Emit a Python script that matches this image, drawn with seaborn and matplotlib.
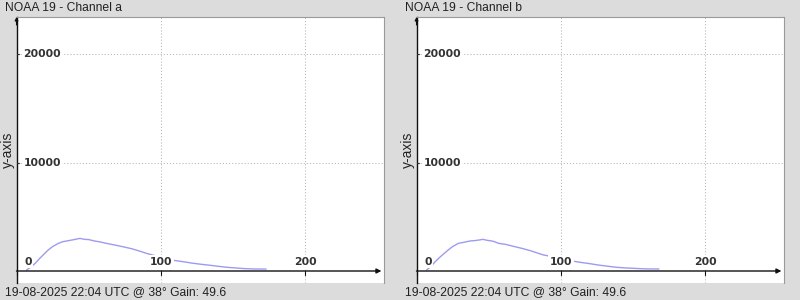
import matplotlib
matplotlib.use("Agg")
import matplotlib.pyplot as plt
import seaborn as sns
import pandas as pd

titles = ["NOAA 19 - Channel a", "NOAA 19 - Channel b"]
footer = "19-08-2025 22:04 UTC @ 38\u00b0 Gain: 49.6"
ylabel = "y-axis"
xticks = [0, 100, 200]
yticks = [10000, 20000]

x_a = [7, 10, 13, 16, 19, 22, 25, 29, 32, 36, 40, 44, 47, 50, 54, 58, 62, 68, 74, 80,
       85, 90, 95, 100, 105, 110, 116, 122, 128, 134, 140, 146, 152, 158, 164, 170, 173]
y_a = [90, 380, 710, 1150, 1550, 1940, 2250, 2550, 2700, 2800, 2900, 3010, 2920, 2900, 2770,
       2680, 2560, 2400, 2230, 2050, 1850, 1630, 1450, 1280, 1080, 960, 850, 720, 620, 530,
       430, 340, 280, 220, 190, 180, 180]

x_b = [7, 10, 13, 16, 19, 22, 25, 29, 33, 37, 40, 43, 46, 49, 53, 57, 62, 67, 73, 79,
       84, 88, 93, 98, 103, 108, 114, 120, 126, 132, 138, 144, 150, 156, 162, 168]
y_b = [90, 420, 860, 1250, 1600, 1940, 2250, 2550, 2650, 2770, 2800, 2850, 2920, 2830, 2750,
       2550, 2450, 2280, 2090, 1870, 1650, 1480, 1350, 1180, 1010, 920, 790, 680, 550, 450,
       350, 290, 250, 210, 190, 185]

sns.set_style("white")
plt.rcParams["font.family"] = ["Liberation Sans", "DejaVu Sans"]

BG = "#dcdcdc"
fig = plt.figure(figsize=(8, 3), dpi=100, facecolor=BG)

series = [(x_a, y_a), (x_b, y_b)]
for i, (xs, ys) in enumerate(series):
    left = (16.5 + 400 * i) / 800
    ax = fig.add_axes([left, 17 / 300, 367.5 / 800, 266 / 300])
    ax.set_facecolor("white")
    df = pd.DataFrame({"x": xs, "y": ys})
    sns.lineplot(data=df, x="x", y="y", ax=ax, color="#9d9bf0", lw=1.0, zorder=2)
    ax.set_xlim(0, 254.7)
    ax.set_ylim(-1107, 23432)
    ax.set_xticks([])
    ax.set_yticks([])
    ax.set_xlabel("")
    ax.set_ylabel("")
    for s in ["top", "right", "bottom"]:
        ax.spines[s].set_color("#9a9a9a")
        ax.spines[s].set_linewidth(0.8)
    ax.spines["bottom"].set_visible(False)
    ax.spines["left"].set_color("#111111")
    ax.spines["left"].set_linewidth(1.0)

    # grid
    for xv in xticks[1:]:
        ax.axvline(xv, color="#b8b8b8", lw=0.7, ls=(0, (1.2, 2)), zorder=1)
    for yv in yticks:
        ax.axhline(yv, color="#b8b8b8", lw=0.7, ls=(0, (1.2, 2)), zorder=1)
        ax.annotate(f"{yv}", xy=(0, yv), xycoords=("axes fraction", "data"),
                    xytext=(5, 0), textcoords="offset points", ha="left", va="center",
                    fontsize=7.8, fontweight="bold", color="#333333",
                    family="DejaVu Sans",
                    bbox=dict(boxstyle="square,pad=0.1", fc="white", ec="none"), zorder=5)
        ax.plot([0, 2], [yv, yv], color="#333333", lw=0.8, zorder=3)

    # x axis line with arrow
    ax.annotate("", xy=(0.993, 0), xycoords=("axes fraction", "data"),
                xytext=(0, 0), textcoords=("axes fraction", "data"),
                arrowprops=dict(arrowstyle="-|>", color="#111111", lw=1.0,
                                mutation_scale=7, shrinkA=0, shrinkB=0), zorder=4)
    # y axis arrow at top
    ax.annotate("", xy=(0, 1.0), xycoords="axes fraction",
                xytext=(0, 0.97), textcoords="axes fraction",
                arrowprops=dict(arrowstyle="-|>", color="#111111", lw=0.8,
                                mutation_scale=5, shrinkA=0, shrinkB=0), zorder=4)

    for xv in xticks:
        ax.plot([xv, xv], [0, -400], color="#111111", lw=0.8, zorder=4, clip_on=False)
        if xv == 0:
            ax.annotate(f"{xv}", xy=(xv, 0), xycoords="data", xytext=(5.5, 3),
                        textcoords="offset points", ha="left", va="bottom",
                        fontsize=7.8, fontweight="bold", color="#333333", family="DejaVu Sans",
                        bbox=dict(boxstyle="square,pad=0.1", fc="white", ec="none"), zorder=5)
        else:
            ax.annotate(f"{xv}", xy=(xv, 0), xycoords="data", xytext=(0, 3),
                        textcoords="offset points", ha="center", va="bottom",
                        fontsize=7.8, fontweight="bold", color="#333333", family="DejaVu Sans",
                        bbox=dict(boxstyle="square,pad=0.15", fc="white", ec="none"), zorder=5)

    fig.text((5 + 400 * i) / 800, 1 - 8 / 300, titles[i], ha="left", va="center",
             fontsize=8.7, color="#222222")
    fig.text((5 + 400 * i) / 800, 1 - 292 / 300, footer, ha="left", va="center",
             fontsize=8.7, color="#222222")
    fig.text((8 + 400 * i) / 800, 1 - 150 / 300, ylabel, ha="center", va="center",
             rotation=90, fontsize=10, color="#222222")

fig.savefig("out.png", dpi=100, facecolor=BG)
